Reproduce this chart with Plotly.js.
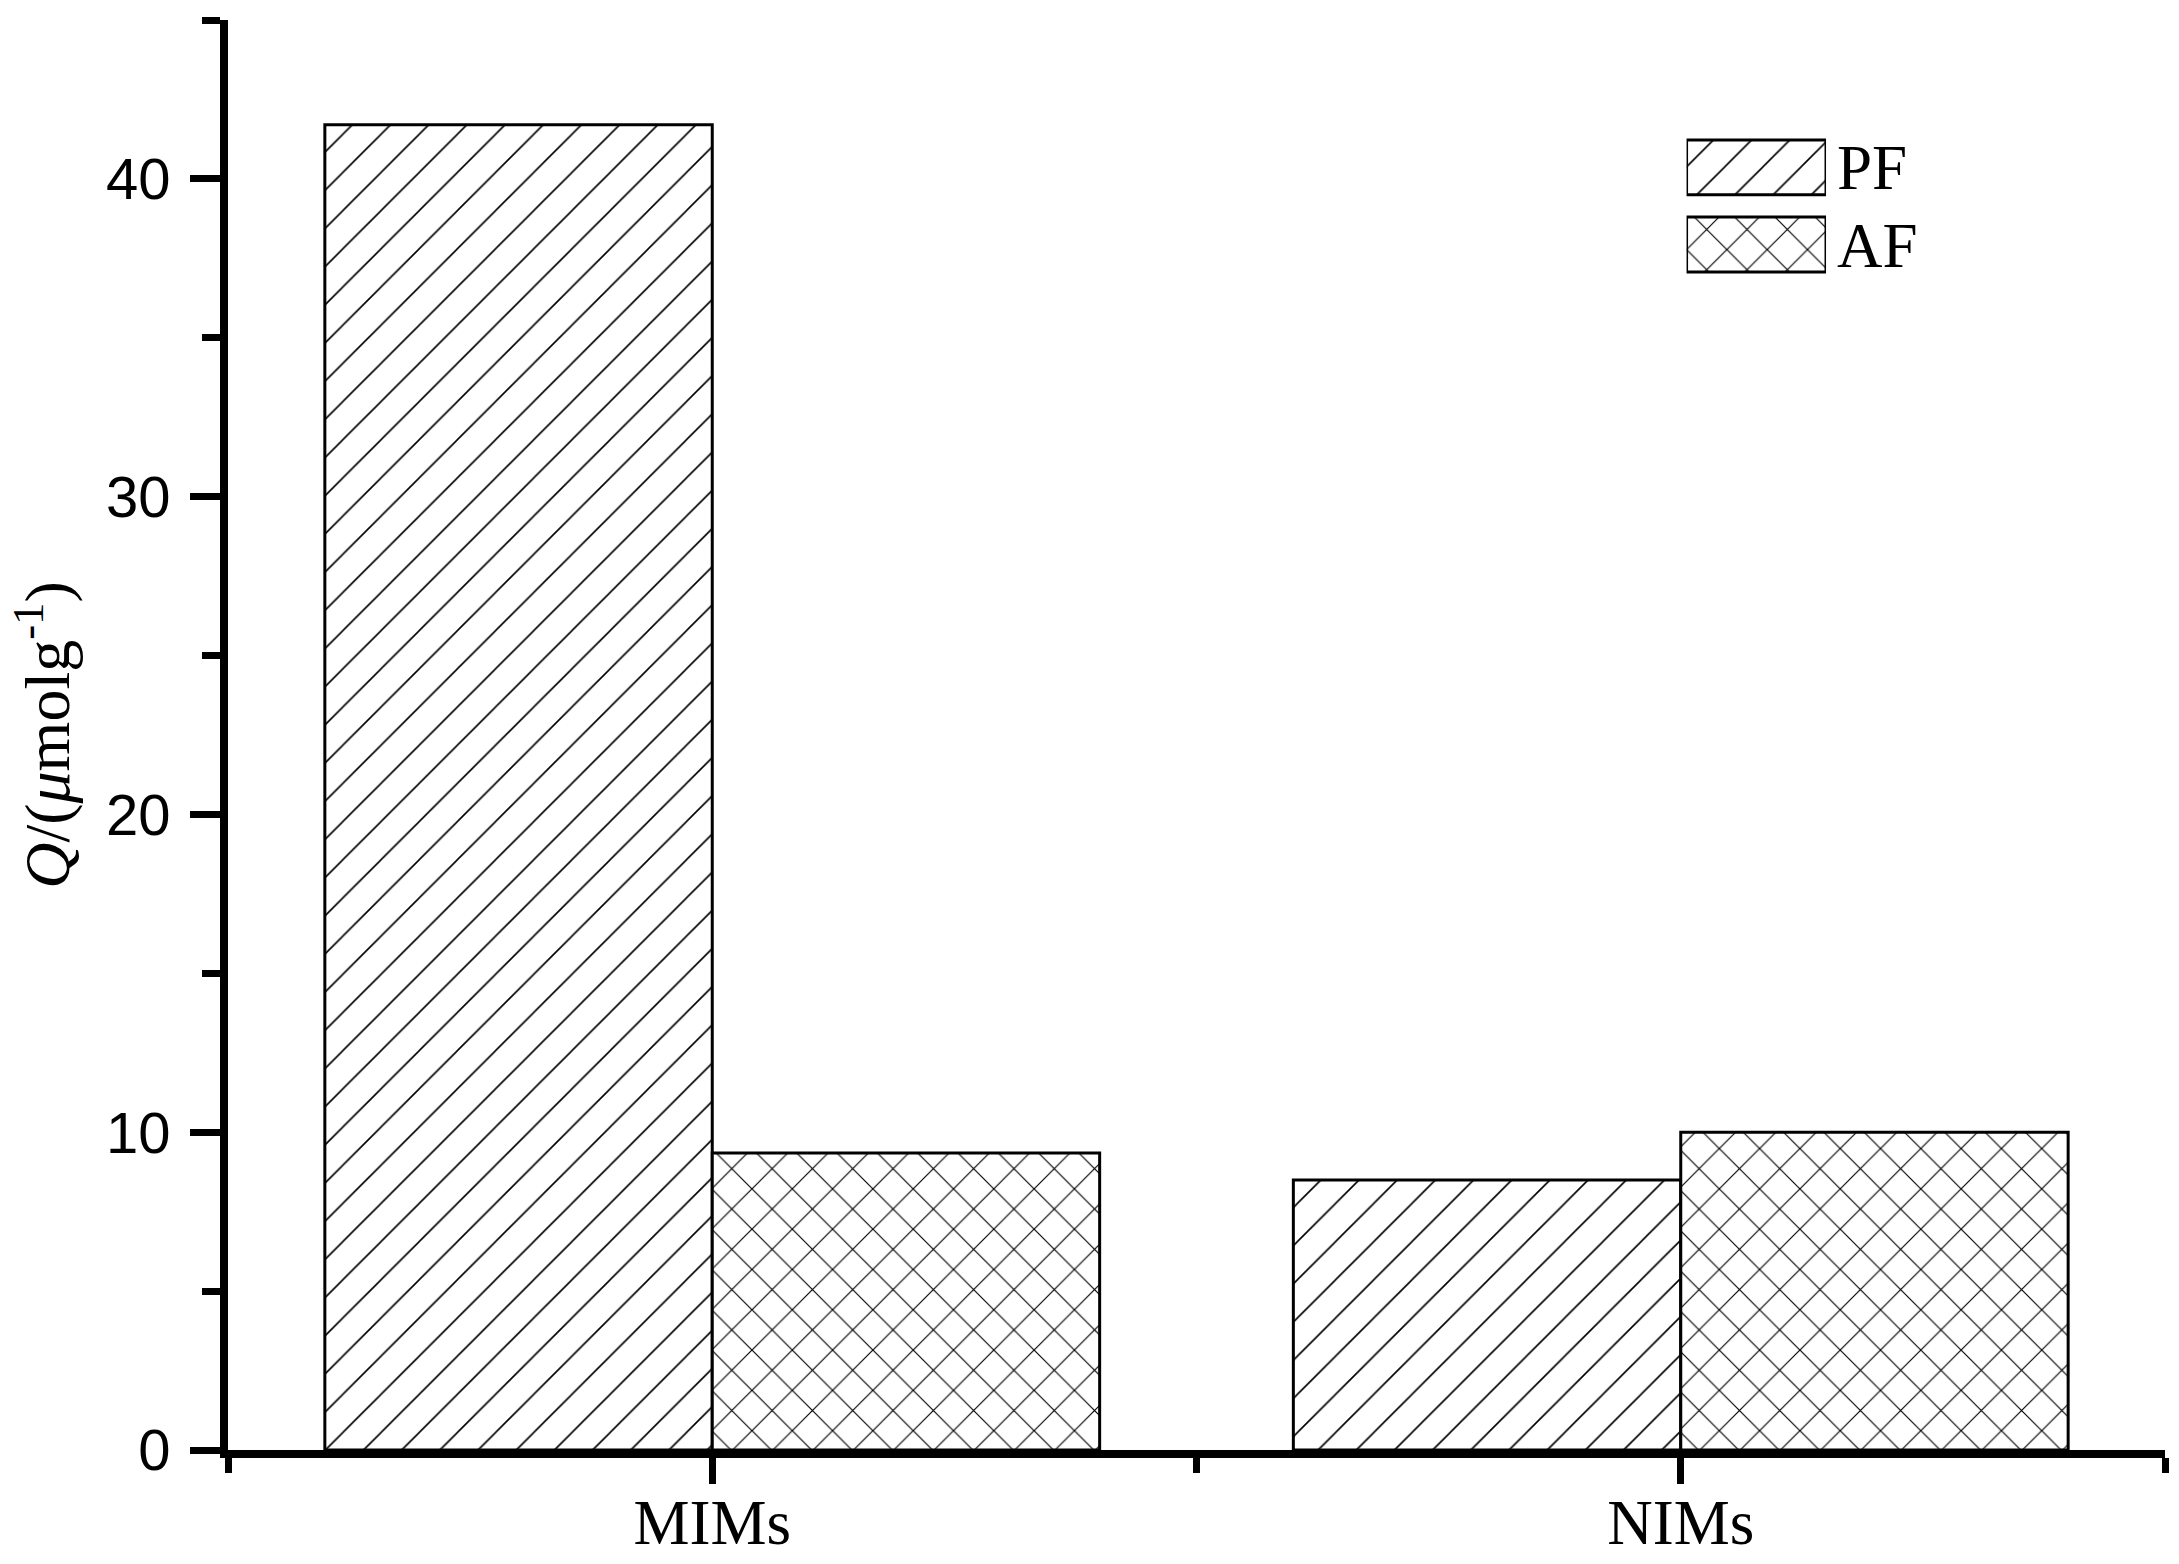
<!DOCTYPE html>
<html>
<head>
<meta charset="utf-8">
<script src="https://cdn.plot.ly/plotly-3.0.1.min.js"></script>
<style>
  html, body { margin: 0; padding: 0; background: #fff; }
  #chart { width: 2179px; height: 1564px; }
</style>
</head>
<body>
<div id="chart"></div>
<script>
// Adsorption capacity Q for imprinted / non-imprinted membranes

var categories = ["MIMs", "NIMs"];
var pfValues = [41.7, 8.5];
var afValues = [9.35, 10.0];
var seriesNames = ["PF", "AF"];
var legendFill = [1, 1];   // swatch length in the legend inset
var yTicks = [0, 10, 20, 30, 40];

var positions = categories.map((c, i) => i);
var serif = "Liberation Serif";

// hatch settings (plotly's "x" tile is sqrt(2) times the size)
var pfHatch = {shape: "/", size: 27, solidity: 0.06, fgcolor: "black", bgcolor: "white"};
var afHatch = {shape: "x", size: 28.5, solidity: 0.08, fgcolor: "black", bgcolor: "white"};

var pf = {
    x: positions,
    y: pfValues,
    name: seriesNames[0],
    type: "bar",
    marker: {color: "white", line: {color: "black", width: 3}, pattern: pfHatch},
    showlegend: false,
    hoverinfo: "y"
};

var af = {
    x: positions,
    y: afValues,
    name: seriesNames[1],
    type: "bar",
    marker: {color: "white", line: {color: "black", width: 3}, pattern: afHatch},
    showlegend: false,
    hoverinfo: "y"
};

// legend drawn as a tiny inset of horizontal bars so the swatches are big boxes
var legendBars = {
    y: seriesNames,
    x: legendFill,
    type: "bar",
    orientation: "h",
    width: 0.71,
    xaxis: "x2",
    yaxis: "y2",
    marker: {
        color: "white",
        line: {color: "black", width: 3},
        pattern: {
            shape: [pfHatch.shape, afHatch.shape],
            size: [pfHatch.size, afHatch.size],
            solidity: [pfHatch.solidity, afHatch.solidity],
            fgcolor: "black",
            bgcolor: "white"
        }
    },
    showlegend: false,
    hoverinfo: "skip"
};

var data = [pf, af, legendBars];

var layout = {
    width: 2179,
    height: 1564,
    margin: {l: 228, r: 14, t: 20, b: 114},
    paper_bgcolor: "white",
    plot_bgcolor: "white",
    barmode: "group",
    bargap: 0.2,
    bargroupgap: 0,
    font: {family: "Liberation Sans", color: "black", size: 58},
    xaxis: {
        range: [-0.5, 1.5],
        tickmode: "array",
        tickvals: positions,
        ticktext: categories,
        tickfont: {family: serif, size: 63},
        ticks: "outside",
        ticklen: 26,
        tickwidth: 7,
        tickcolor: "black",
        ticklabelstandoff: -16,
        minor: {tickvals: [-0.5, 0.5, 1.5], ticks: "outside", ticklen: 15, tickwidth: 7, tickcolor: "black", showgrid: false},
        showline: true,
        linewidth: 8,
        linecolor: "black",
        showgrid: false,
        zeroline: false,
        fixedrange: true
    },
    yaxis: {
        range: [0, 45],
        tickmode: "array",
        tickvals: yTicks,
        ticks: "outside",
        ticklen: 30,
        tickwidth: 7,
        tickcolor: "black",
        ticklabelstandoff: 8,
        minor: {dtick: 5, tick0: 0, ticks: "outside", ticklen: 18, tickwidth: 7, tickcolor: "black", showgrid: false},
        showline: true,
        linewidth: 8,
        linecolor: "black",
        showgrid: false,
        zeroline: false,
        fixedrange: true,
        title: {
            text: "<i>Q</i>/(<i>μ</i>molg<sup>-1</sup>)",
            font: {family: serif, size: 64},
            standoff: 18
        }
    },
    xaxis2: {
        domain: [0.753, 0.825],
        anchor: "y2",
        range: [0, 1],
        visible: false,
        fixedrange: true
    },
    yaxis2: {
        domain: [0.816, 0.924],
        anchor: "x2",
        type: "category",
        autorange: "reversed",
        side: "right",
        showline: false,
        showgrid: false,
        zeroline: false,
        ticks: "",
        ticklabelstandoff: 10,
        tickfont: {family: serif, size: 63},
        fixedrange: true
    }
};

Plotly.newPlot("chart", data, layout, {staticPlot: true});
</script>
</body>
</html>
